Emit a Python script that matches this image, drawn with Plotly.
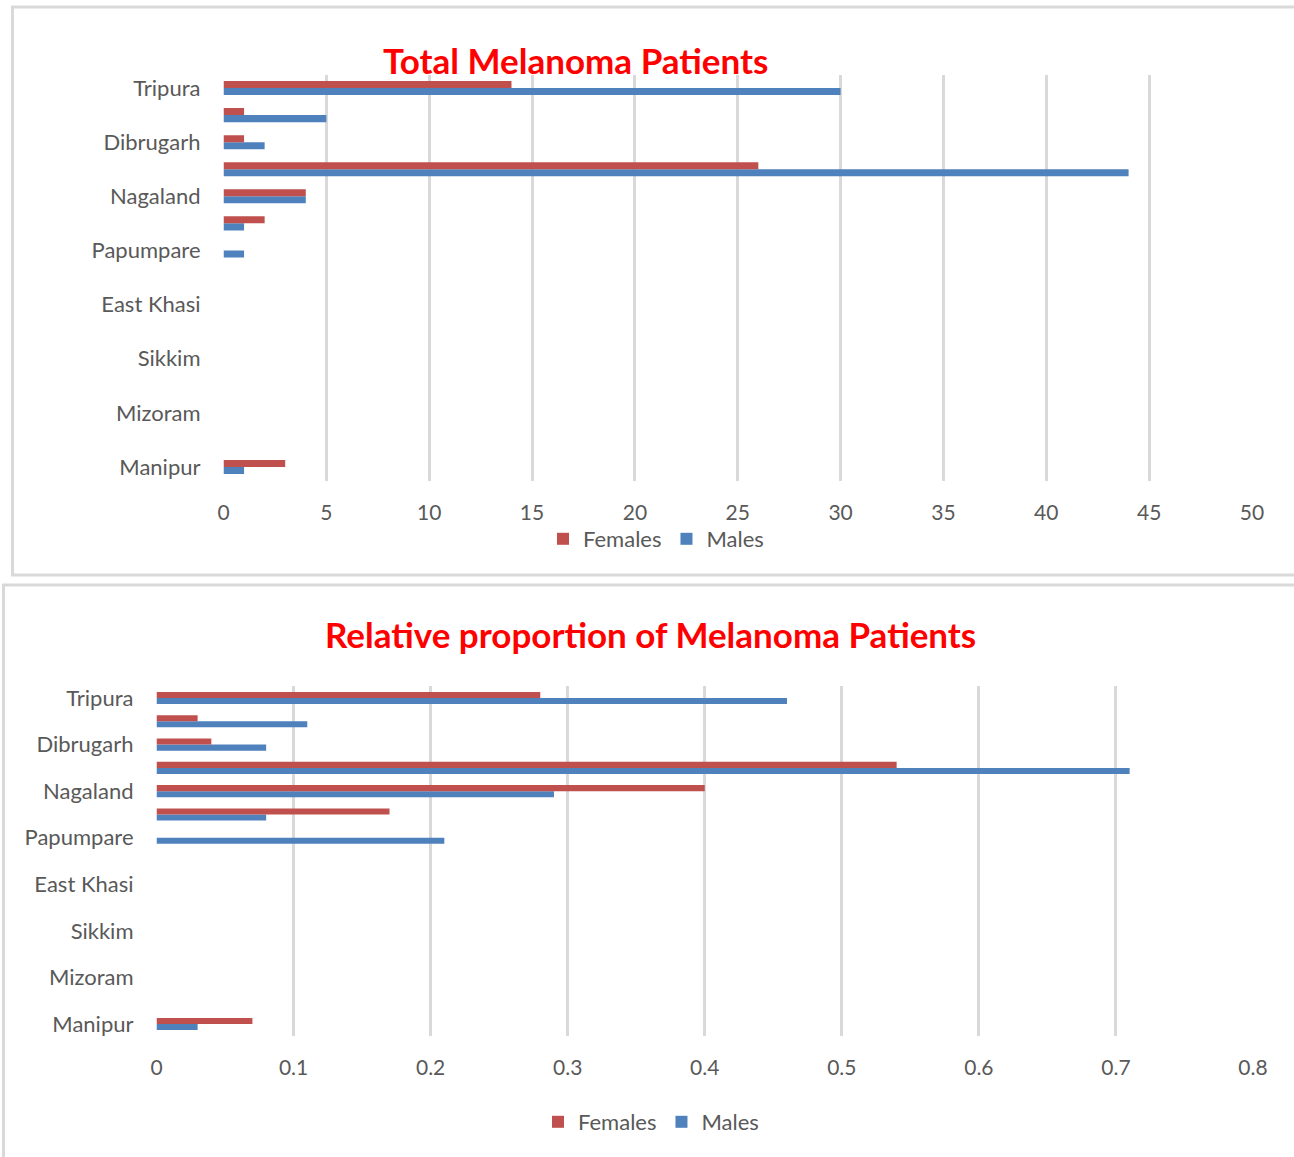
import plotly.graph_objects as go

W, H = 1294, 1157

# Categories listed top-to-bottom as they appear (only every other one is labelled)
categories = ["Tripura", "Cachar", "Dibrugarh", "Kamrup Urban", "Nagaland", "Meghalaya",
              "Papumpare", "Aizawl", "East Khasi", "Imphal West", "Sikkim", "Naharlagun",
              "Mizoram", "Pasighat", "Manipur"]
shown_labels = ["Tripura", "Dibrugarh", "Nagaland", "Papumpare", "East Khasi",
                "Sikkim", "Mizoram", "Manipur"]

total_females = [14, 1, 1, 26, 4, 2, 0, 0, 0, 0, 0, 0, 0, 0, 3]
total_males = [30, 5, 2, 44, 4, 1, 1, 0, 0, 0, 0, 0, 0, 0, 1]

rel_females = [0.28, 0.03, 0.04, 0.54, 0.40, 0.17, 0, 0, 0, 0, 0, 0, 0, 0, 0.07]
rel_males = [0.46, 0.11, 0.08, 0.71, 0.29, 0.08, 0.21, 0, 0, 0, 0, 0, 0, 0, 0.03]

x1_ticks = [0, 5, 10, 15, 20, 25, 30, 35, 40, 45, 50]
x2_ticks = [0, 0.1, 0.2, 0.3, 0.4, 0.5, 0.6, 0.7, 0.8]

RED = "#c0504d"
BLUE = "#4f81bd"
GRID = "#d9d9d9"
TXT = "#595959"
FONT = "Lato, Open Sans, sans-serif"

def px_x(p):
    return p / W

def px_y(p):
    return 1 - p / H

fig = go.Figure()

# top chart
fig.add_trace(go.Bar(y=categories, x=total_males, name="Males", orientation="h",
                     marker=dict(color=BLUE, line=dict(width=0)), xaxis="x", yaxis="y",
                     legend="legend"))
fig.add_trace(go.Bar(y=categories, x=total_females, name="Females", orientation="h",
                     marker=dict(color=RED, line=dict(width=0)), xaxis="x", yaxis="y",
                     legend="legend"))
# bottom chart
fig.add_trace(go.Bar(y=categories, x=rel_males, name="Males", orientation="h",
                     marker=dict(color=BLUE, line=dict(width=0)), xaxis="x2", yaxis="y2",
                     legend="legend2"))
fig.add_trace(go.Bar(y=categories, x=rel_females, name="Females", orientation="h",
                     marker=dict(color=RED, line=dict(width=0)), xaxis="x2", yaxis="y2",
                     legend="legend2"))

cat_order = list(reversed(categories))

common_x = dict(showgrid=True, gridcolor=GRID, gridwidth=3, zeroline=False,
                showline=False, ticks="", tickfont=dict(size=21, color=TXT, family=FONT),
                tickmode="array", ticklabelstandoff=17, fixedrange=True, automargin=False)
common_y = dict(type="category", categoryorder="array", categoryarray=cat_order,
                showgrid=False, zeroline=False, showline=False, ticks="",
                tickmode="array", tickvals=shown_labels, ticktext=shown_labels,
                tickfont=dict(size=22, color=TXT, family=FONT), ticklabelstandoff=22,
                range=[-0.5, len(categories) - 0.5], automargin=False, fixedrange=True)

fig.update_layout(
    width=W, height=H, autosize=False,
    margin=dict(l=0, r=0, t=0, b=0, pad=0, autoexpand=False),
    paper_bgcolor="white", plot_bgcolor="white",
    barmode="group", bargap=0.48, bargroupgap=0,
    font=dict(family=FONT, color=TXT),
    xaxis=dict(domain=[px_x(223.5), px_x(1252)], range=[0, 50], tickvals=x1_ticks,
               anchor="y", **common_x),
    yaxis=dict(domain=[px_y(480.5), px_y(74.5)], anchor="x", **common_y),
    xaxis2=dict(domain=[px_x(156.5), px_x(1253)], range=[0, 0.8], tickvals=x2_ticks,
                ticktext=[str(v) for v in x2_ticks], anchor="y2", **common_x),
    yaxis2=dict(domain=[px_y(1035.6), px_y(686.4)], anchor="x2", **common_y),
    legend=dict(orientation="h", x=px_x(656), y=px_y(539), xanchor="center",
                yanchor="middle", traceorder="reversed",
                font=dict(size=22, color=TXT, family=FONT), itemwidth=30,
                bgcolor="rgba(0,0,0,0)"),
    legend2=dict(orientation="h", x=px_x(651), y=px_y(1122), xanchor="center",
                 yanchor="middle", traceorder="reversed",
                 font=dict(size=22, color=TXT, family=FONT), itemwidth=30,
                 bgcolor="rgba(0,0,0,0)"),
    annotations=[
        dict(text="<b>Total Melanoma Patients</b>", x=px_x(575), y=px_y(60),
             xref="paper", yref="paper", showarrow=False, xanchor="center",
             yanchor="middle", font=dict(size=35, color="#ff0000", family=FONT)),
        dict(text="<b>Relative proportion of Melanoma Patients</b>", x=px_x(650),
             y=px_y(634), xref="paper", yref="paper", showarrow=False,
             xanchor="center", yanchor="middle",
             font=dict(size=35, color="#ff0000", family=FONT)),
    ],
    shapes=[
        dict(type="rect", xref="paper", yref="paper", x0=px_x(12.5), x1=px_x(1310),
             y0=px_y(575), y1=px_y(7), line=dict(color=GRID, width=3),
             fillcolor="rgba(0,0,0,0)", layer="below"),
        dict(type="rect", xref="paper", yref="paper", x0=px_x(3.5), x1=px_x(1310),
             y0=px_y(1175), y1=px_y(585), line=dict(color=GRID, width=3),
             fillcolor="rgba(0,0,0,0)", layer="below"),
    ],
)

fig.write_html("out.html")
